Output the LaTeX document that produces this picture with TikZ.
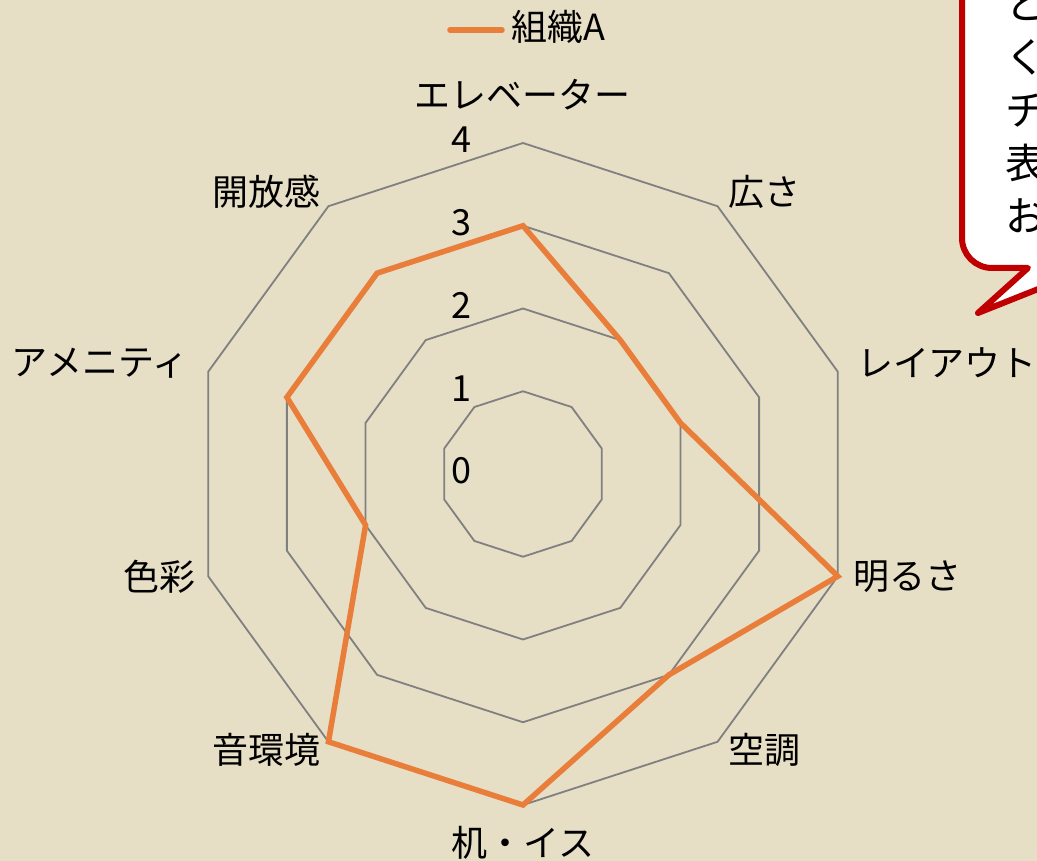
\documentclass[tikz,border=0pt]{standalone}
\usepackage{fontspec}
\setmainfont{Noto Sans CJK JP}
\usetikzlibrary{calc}
\definecolor{paper}{HTML}{E6DEC5}
\definecolor{chartorange}{HTML}{E97D3A}
\definecolor{calloutred}{HTML}{C00000}
\tikzset{
    % Colors
    grid color/.style={color=black!50},
    %
    % Chart
    ring/.style={grid color,line width=1.8pt},
    series/.style={chartorange,line width=5.5pt},
    axis label/.style={inner sep=0pt,anchor=center},
    tick label/.style={inner sep=0pt,anchor=center},
    %
    % Callout
    callout/.style={draw=calloutred,fill=white,line width=6pt,line join=round}
}
\tikzset{every node/.style={font=\fontsize{36}{43}\selectfont}}
\newcommand{\ringstep}{82.75}

\begin{document}
\begin{tikzpicture}[x=1pt,y=1pt]
    \useasboundingbox (-523,-387) rectangle (514,474);
    \clip (-523,-387) rectangle (514,474);
    \fill[paper] (-523,-387) rectangle (514,474);
    % rings
    \foreach \r in {1,...,4}{
        \draw[ring] (90:\r*\ringstep) \foreach \k in {1,...,9}{ -- (90-36*\k:\r*\ringstep)} -- cycle;
    }
    \foreach \t in {0,...,4}
        \node[tick label] (tick\t) at (-62,\t*\ringstep+3) {\t};
    % data
    \foreach \v [count=\k from 0] in {3,2,2,4,3,4,4,2,3,3}
        \coordinate (p\k) at (90-36*\k:\v*\ringstep);
    \draw[series] (p0) \foreach \k in {1,...,9}{ -- (p\k)} -- cycle;
    \foreach \name/\x/\y [count=\k] in {エレベーター/0/379, 広さ/242/282, レイアウト/424/111,
        明るさ/384/-103, 空調/242/-276, 机・イス/0/-369, 音環境/-256/-276,
        色彩/-363/-103, アメニティ/-423/111, 開放感/-256/282}
        \node[axis label] (axis\k) at (\x,\y) {\name};
    % legend
    \coordinate (legA) at (-73,444);
    \coordinate (legB) at (-21,444);
    \draw[series,line cap=round] (legA) -- (legB);
    \node[inner sep=0pt] (legend) at (35,447) {組織A};
    % callout
    \draw[callout] (600,494) -- (439,494) -- (439,236) arc[start angle=180,end angle=270,radius=30]
        -- (505,206) -- (455,161) -- (568,206) -- (600,206) -- cycle;
    \node[anchor=west,align=left,inner sep=0pt,font=\fontsize{41}{53}\selectfont] (note) at (482,364)
        {と\\く\\チ\\表\\お};
\end{tikzpicture}
\end{document}
